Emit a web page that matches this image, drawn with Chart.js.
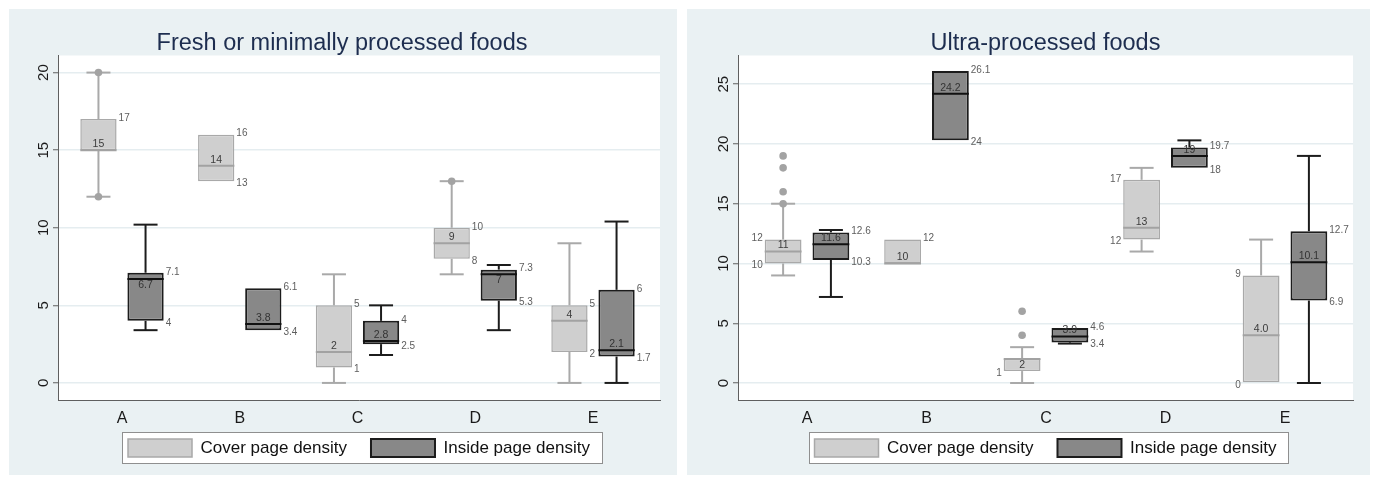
<!DOCTYPE html>
<html>
<head>
<meta charset="utf-8">
<script src="https://cdn.jsdelivr.net/npm/chart.js@4.4.1/dist/chart.umd.min.js"></script>
<style>
html,body{margin:0;padding:0;background:#ffffff;}
body{width:1381px;height:479px;position:relative;overflow:hidden;}
.panel{position:absolute;top:9px;height:466px;background:#eaf1f3;}
#p1{left:9px;width:668px;}
#p2{left:687px;width:683px;}
canvas{position:absolute;top:9px;}
#c1{left:9px;}
#c2{left:687px;}
</style>
</head>
<body>
<div class="panel" id="p1"></div>
<div class="panel" id="p2"></div>
<canvas id="c1" width="668" height="463"></canvas>
<canvas id="c2" width="683" height="463"></canvas>
<script>
// ---------- data ----------
const categories = ['A', 'B', 'C', 'D', 'E'];
const categoryPositions = [1, 2, 3, 4, 5];
const seriesNames = ['Cover page density', 'Inside page density'];

// Fresh or minimally processed foods
const freshTitle = 'Fresh or minimally processed foods';
const freshYTicks = [0, 5, 10, 15, 20];
const freshCoverBox = [[15, 17], [13, 16], [1, 5], [8, 10], [2, 5]];
const freshCoverMedian = [15, 14, 2, 9, 4];
const freshCoverWhisker = [[12, 20], null, [0, 7], [7, 13], [0, 9]];
const freshCoverOutliers = [[12, 20], [], [], [13], []];
const freshCoverLabelTop = ['17', '16', '5', '10', '5'];
const freshCoverLabelMid = ['15', '14', '2', '9', '4'];
const freshCoverLabelBot = ['', '13', '1', '8', '2'];
const freshInsideBox = [[4, 7.1], [3.4, 6.1], [2.5, 4], [5.3, 7.3], [1.7, 6]];
const freshInsideMedian = [6.7, 3.8, 2.7, 7, 2.1];
const freshInsideWhisker = [[3.4, 10.2], null, [1.8, 5], [3.4, 7.6], [0, 10.4]];
const freshInsideOutliers = [[], [], [], [], []];
const freshInsideLabelTop = ['7.1', '6.1', '4', '7.3', '6'];
const freshInsideLabelMid = ['6.7', '3.8', '2.8', '7', '2.1'];
const freshInsideLabelBot = ['4', '3.4', '2.5', '5.3', '1.7'];

// Ultra-processed foods
const ultraTitle = 'Ultra-processed foods';
const ultraYTicks = [0, 5, 10, 15, 20, 25];
const ultraCoverBox = [[10, 12], [10, 12], [1, 2], [12, 17], [0, 9]];
const ultraCoverMedian = [11, 10, 2, 13, 4];
const ultraCoverWhisker = [[9, 15], null, [0, 3], [11, 18], [0, 12]];
const ultraCoverOutliers = [[15, 16, 18, 19], [], [4, 6], [], []];
const ultraCoverLabelTop = ['12', '12', '', '17', '9'];
const ultraCoverLabelMid = ['11', '10', '2', '13', '4.0'];
const ultraCoverLabelBot = ['10', '', '1', '12', '0'];
const ultraInsideBox = [[10.3, 12.6], [20.3, 26.1], [3.4, 4.6], [18, 19.7], [6.9, 12.7]];
const ultraInsideMedian = [11.6, 24.2, 3.9, 19, 10.1];
const ultraInsideWhisker = [[7.2, 12.8], null, [3.3, 4.6], [18, 20.3], [0, 19]];
const ultraInsideOutliers = [[], [], [], [], []];
const ultraInsideLabelTop = ['12.6', '26.1', '4.6', '19.7', '12.7'];
const ultraInsideLabelMid = ['11.6', '24.2', '3.9', '19', '10.1'];
const ultraInsideLabelBot = ['10.3', '24', '3.4', '18', '6.9'];

// ---------- styles ----------
const FONT = "'Liberation Sans', Arial, Helvetica, sans-serif";
const coverStyle = { fill: '#cfcfcf', border: '#a9a9a9', borderWidth: 1.5, line: '#a9a9a9', median: '#a2a2a2', dot: '#a3a3a3', midText: '#3c3c3c' };
const insideStyle = { fill: '#888888', border: '#1c1c1c', borderWidth: 2, line: '#1c1c1c', median: '#111111', dot: '#555555', midText: '#333333' };

function makeBoxPlugin(groups) {
  return {
    id: 'boxExtras',
    beforeDraw(chart) {
      const { ctx, chartArea: a } = chart;
      ctx.save();
      ctx.fillStyle = '#ffffff';
      ctx.fillRect(a.left, a.top, a.right - a.left, a.bottom - a.top);
      const lg = chart.legend;
      if (lg && lg.legendHitBoxes && lg.legendHitBoxes.length) {
        const hb = lg.legendHitBoxes;
        const last = hb[hb.length - 1];
        const x0 = Math.round(hb[0].left - 6), x1 = Math.round(last.left + last.width + 12);
        const y0 = Math.round(hb[0].top - 7), y1 = Math.round(hb[0].top + hb[0].height + 6);
        ctx.fillRect(x0, y0, x1 - x0, y1 - y0);
        ctx.strokeStyle = '#8f8f8f';
        ctx.lineWidth = 1;
        ctx.strokeRect(x0 + 0.5, y0 + 0.5, x1 - x0, y1 - y0);
      }
      ctx.restore();
    },
    afterDatasetsDraw(chart) {
      const ctx = chart.ctx;
      const ys = v => chart.scales.y.getPixelForValue(v);
      const seg = (x1, y1, x2, y2) => { ctx.beginPath(); ctx.moveTo(x1, y1); ctx.lineTo(x2, y2); ctx.stroke(); };
      const capHalf = 12;
      groups.forEach((g, d) => {
        const meta = chart.getDatasetMeta(d);
        meta.data.forEach((bar, i) => {
          const cx = bar.x, hw = bar.width / 2;
          const q1 = g.box[i][0], q3 = g.box[i][1];
          const yq1 = ys(q1), yq3 = ys(q3);
          const st = g.style;
          ctx.save();
          ctx.lineCap = 'butt';
          ctx.strokeStyle = st.line;
          ctx.lineWidth = 2;
          const w = g.whisker[i];
          if (w) {
            if (w[1] > q3) { const yh = ys(w[1]); seg(cx, yq3, cx, yh); seg(cx - capHalf, yh, cx + capHalf, yh); }
            if (w[0] < q1) { const yl = ys(w[0]); seg(cx, yq1, cx, yl); seg(cx - capHalf, yl, cx + capHalf, yl); }
          }
          // median
          const ym = ys(g.median[i]);
          ctx.strokeStyle = st.median;
          ctx.lineWidth = 2;
          seg(cx - hw, ym, cx + hw, ym);
          // outliers
          ctx.fillStyle = st.dot;
          g.outliers[i].forEach(v => {
            ctx.beginPath(); ctx.arc(cx, ys(v), 3.8, 0, Math.PI * 2); ctx.fill();
          });
          // labels
          ctx.font = '10px ' + FONT;
          ctx.textBaseline = 'middle';
          ctx.fillStyle = '#5e5e5e';
          const side = g.side[i];
          const lx = side === 'left' ? cx - hw - 2 : cx + hw + 2;
          ctx.textAlign = side === 'left' ? 'right' : 'left';
          if (g.top[i]) ctx.fillText(g.top[i], lx, yq3 - 1);
          if (g.bot[i]) ctx.fillText(g.bot[i], lx, yq1 + 2);
          if (g.mid[i]) {
            ctx.font = '10.5px ' + FONT;
            ctx.textAlign = 'center';
            ctx.fillStyle = st.midText;
            const my = (ym - yq3 < 7) ? ym + 6 : ym - 6;
            ctx.fillText(g.mid[i], cx, my);
          }
          ctx.restore();
        });
      });
    }
  };
}

function makeChart(id, cfg) {
  const toPts = box => box.map((b, i) => ({ x: categoryPositions[i], y: b }));
  const groups = [cfg.cover, cfg.inside];
  return new Chart(document.getElementById(id), {
    type: 'bar',
    data: {
      datasets: [
        { label: seriesNames[0], data: toPts(cfg.cover.box), backgroundColor: coverStyle.fill, borderColor: coverStyle.border, borderWidth: coverStyle.borderWidth, borderSkipped: false, categoryPercentage: 0.8, barPercentage: 0.77 },
        { label: seriesNames[1], data: toPts(cfg.inside.box), backgroundColor: insideStyle.fill, borderColor: insideStyle.border, borderWidth: insideStyle.borderWidth, borderSkipped: false, categoryPercentage: 0.8, barPercentage: 0.77 }
      ]
    },
    options: {
      responsive: false,
      animation: false,
      layout: { padding: { top: 0, right: cfg.padRight, bottom: 5, left: cfg.padLeft } },
      scales: {
        x: {
          type: 'linear', min: cfg.xMin, max: cfg.xMax, offset: false,
          afterBuildTicks: s => { s.ticks = categoryPositions.map(v => ({ value: v })); },
          afterFit: s => { s.height = 15; },
          ticks: { callback: v => categories[categoryPositions.indexOf(v)] ?? '', font: { family: FONT, size: 16 }, color: '#1a1a1a', padding: -28, mirror: true, maxRotation: 0, autoSkip: false },
          grid: { display: false, drawTicks: false },
          border: { display: true, color: '#5f5f5f', width: 1 }
        },
        y: {
          type: 'linear', min: cfg.yMin, max: cfg.yMax,
          afterBuildTicks: s => { s.ticks = cfg.yTicks.map(v => ({ value: v })); },
          afterFit: s => { s.width = cfg.yWidth; },
          ticks: { font: { family: FONT, size: 15 }, color: '#1a1a1a', minRotation: 90, maxRotation: 90, crossAlign: 'center', padding: 1 },
          grid: { color: '#e5edf0', lineWidth: 1.5, drawTicks: true, tickLength: 5, tickColor: '#5f5f5f', tickWidth: 1 },
          border: { display: true, color: '#5f5f5f', width: 1 }
        }
      },
      plugins: {
        title: { display: true, fullSize: cfg.titleFullSize, text: cfg.title, color: '#1d2d4f', font: { family: FONT, size: 23.5, weight: 'normal', lineHeight: 1 }, padding: { top: 23, bottom: 0 } },
        legend: {
          position: 'bottom', fullSize: false,
          labels: { boxWidth: 64, boxHeight: 18, padding: 24, color: '#111111', font: { family: FONT, size: 17 } }
        },
        tooltip: { enabled: false }
      }
    },
    plugins: [makeBoxPlugin(groups)]
  });
}

makeChart('c1', {
  title: freshTitle, titleFullSize: true, yTicks: freshYTicks, yMin: -1.1, yMax: 21.1, xMin: 0.4565, xMax: 5.569, yWidth: 34, padLeft: 15, padRight: 17,
  cover: { box: freshCoverBox, median: freshCoverMedian, whisker: freshCoverWhisker, outliers: freshCoverOutliers, top: freshCoverLabelTop, mid: freshCoverLabelMid, bot: freshCoverLabelBot, side: ['right', 'right', 'right', 'right', 'right'], style: coverStyle },
  inside: { box: freshInsideBox, median: freshInsideMedian, whisker: freshInsideWhisker, outliers: freshInsideOutliers, top: freshInsideLabelTop, mid: freshInsideLabelMid, bot: freshInsideLabelBot, side: ['right', 'right', 'right', 'right', 'right'], style: insideStyle }
});

makeChart('c2', {
  title: ultraTitle, titleFullSize: false, yTicks: ultraYTicks, yMin: -1.42, yMax: 27.4, xMin: 0.4225, xMax: 5.569, yWidth: 51, padLeft: 0, padRight: 17,
  cover: { box: ultraCoverBox, median: ultraCoverMedian, whisker: ultraCoverWhisker, outliers: ultraCoverOutliers, top: ultraCoverLabelTop, mid: ultraCoverLabelMid, bot: ultraCoverLabelBot, side: ['left', 'right', 'left', 'left', 'left'], style: coverStyle },
  inside: { box: ultraInsideBox, median: ultraInsideMedian, whisker: ultraInsideWhisker, outliers: ultraInsideOutliers, top: ultraInsideLabelTop, mid: ultraInsideLabelMid, bot: ultraInsideLabelBot, side: ['right', 'right', 'right', 'right', 'right'], style: insideStyle }
});
</script>
</body>
</html>
